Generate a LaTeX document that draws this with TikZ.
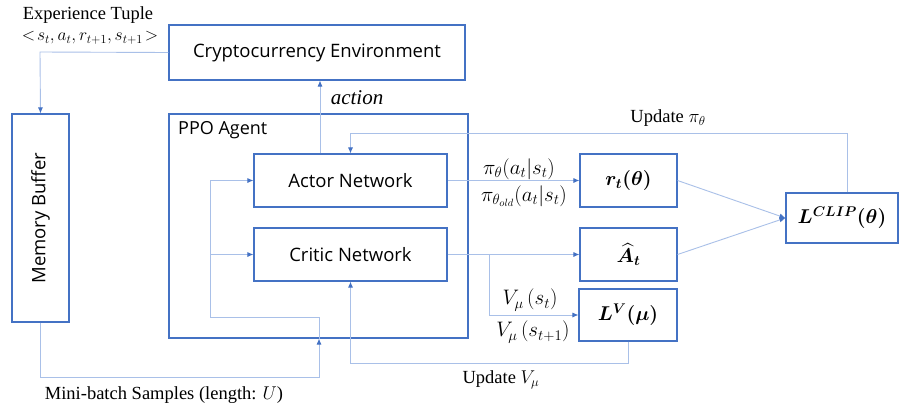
\RequirePackage{fix-cm}
\documentclass[tikz,border=0pt]{standalone}
\usepackage{amsmath,bm}
\usepackage{fontspec}
\setmainfont{Liberation Serif}
\setsansfont{Open Sans}
\usetikzlibrary{arrows.meta,calc}
\definecolor{boxc}{HTML}{4472C4}
\definecolor{linec}{HTML}{A9C0E8}
\definecolor{tipc}{HTML}{4472C4}
\tikzset{
  box/.style={draw=boxc, line width=1.1pt, fill=white, inner sep=0pt, font=\sffamily\fontsize{18.5}{20}\selectfont},
  mbox/.style={draw=boxc, line width=1.1pt, fill=white, inner sep=0pt, font=\fontsize{20}{22}\selectfont},
  conn/.style={draw=linec, line width=0.9pt},
  arr/.style={conn, -{Latex[length=6pt,width=5pt,fill=tipc,color=tipc]}},
  lbl/.style={inner sep=0pt, font=\fontsize{18.5}{20}\selectfont},
  mlbl/.style={inner sep=0pt, font=\fontsize{21}{23}\selectfont}
}
\begin{document}
\begin{tikzpicture}[x=1pt,y=-1pt]
\useasboundingbox[fill=white] (0,0) rectangle (900,410);
% boxes
\node[box, minimum width=296pt, minimum height=55pt] (env) at (317,52.5) {Cryptocurrency Environment};
\node[box, minimum width=57pt, minimum height=208pt] (mem) at (40.5,218) {\rotatebox{90}{Memory Buffer}};
\node[box, minimum width=299pt, minimum height=224pt] (ppo) at (318.5,226) {};
\node[lbl, anchor=west, font=\sffamily\fontsize{18}{20}\selectfont] (ppol) at (178,130) {PPO Agent};
\node[box, minimum width=193pt, minimum height=53pt] (actor) at (350.5,180.5) {Actor Network};
\node[box, minimum width=193pt, minimum height=53pt] (critic) at (350.5,254.5) {Critic Network};
\node[mbox, minimum width=97pt, minimum height=53pt] (rt) at (628.5,180.5) {$\bm{r_t(\theta)}$};
\node[mbox, minimum width=97pt, minimum height=53pt] (at) at (628.5,254.5) {$\bm{\widehat{A}_t}$};
\node[mbox, minimum width=98pt, minimum height=52pt] (lv) at (628,315) {$\bm{L^{V}(\mu)}$};
\node[mbox, minimum width=112pt, minimum height=50pt] (lclip) at (842,218) {$\bm{L^{CLIP}(\theta)}$};
% labels
\node[lbl] (exp) at (88,15) {Experience Tuple};
\node[mlbl, font=\fontsize{17.5}{19}\selectfont] (tup) at (90,38) {$<\!s_t, a_t, r_{t+1}, s_{t+1}\!>$};
\node[mlbl] (act) at (357,98) {$\mathit{action}$};
\node[lbl] (upi) at (668,118) {Update $\pi_\theta$};
\node[mlbl] (pi1) at (519,169) {$\pi_\theta(a_t|s_t)$};
\node[mlbl] (pi2) at (524,196) {$\pi_{\theta_{old}}(a_t|s_t)$};
\node[mlbl] (v1) at (530,300) {$V_\mu\,(s_t)$};
\node[mlbl] (v2) at (533,332) {$V_\mu\,(s_{t+1})$};
\node[lbl] (uv) at (501,380) {Update $V_\mu$};
\node[lbl] (mb) at (164,395) {Mini-batch Samples (length: $U$)};
% coordinates
\coordinate (envl) at (40,52);
\coordinate (actx) at (320,0);
\coordinate (upy) at (0,133);
\coordinate (updx) at (847,0);
\coordinate (br) at (489,0);
\coordinate (uvy) at (0,363);
\coordinate (mby) at (0,377);
\coordinate (mbx) at (319,0);
\coordinate (iny) at (0,317);
\coordinate (inx) at (210,0);
% connectors
\draw[arr] (env.west) -- (envl) -- (mem.north);
\draw[arr] (actor.north -| actx) -- (env.south -| actx);
\draw[arr] (lclip.north -| updx) -- (upy -| updx) -- (upy -| actor.north) -- (actor.north);
\draw[arr] (actor.east) -- (rt.west);
\draw[arr] (critic.east) -- (at.west);
\draw[arr] (critic.east -| br) -- (lv.west -| br) -- (lv.west);
\draw[arr] (rt.east) -- (lclip.west);
\draw[arr] (at.east) -- (lclip.west);
\draw[arr] (lv.south) -- (uvy -| lv.south) -- (uvy -| critic.south) -- (critic.south);
\draw[arr] (mem.south) -- (mby -| mem.south) -- (mby -| mbx) -- (ppo.south -| mbx);
\draw[arr] (ppo.south -| mbx) -- (iny -| mbx) -- (iny -| inx) -- (actor.west -| inx) -- (actor.west);
\draw[arr] (critic.west -| inx) -- (critic.west);
\end{tikzpicture}
\end{document}
